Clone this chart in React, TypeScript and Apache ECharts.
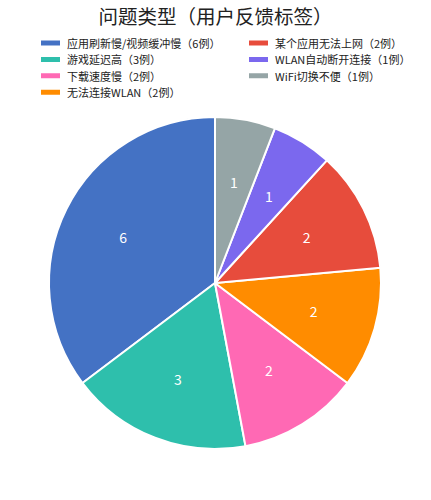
import { useEffect, useRef } from 'react';
import * as echarts from 'echarts';

const categories = [
  '应用刷新慢/视频缓冲慢',
  '游戏延迟高',
  '下载速度慢',
  '无法连接WLAN',
  '某个应用无法上网',
  'WLAN自动断开连接',
  'WiFi切换不便',
];
const counts = [6, 3, 2, 2, 2, 1, 1];
const colors = ['#4472C4', '#2EBFAC', '#FF69B4', '#FF8C00', '#E74C3C', '#7B68EE', '#95A5A6'];

const FONT = '"Noto Sans CJK SC", "Noto Sans", sans-serif';

export default function App() {
  const chartRef = useRef<HTMLDivElement>(null);

  useEffect(() => {
    document.body.style.margin = '0';
    if (!chartRef.current) return;
    const chart = echarts.init(chartRef.current, undefined, { renderer: 'svg' });

    const names = categories.map((c, i) => `${c}（${counts[i]}例）`);
    const data = names.map((name, i) => ({
      name,
      value: counts[i],
      itemStyle: { color: colors[i] },
    }));

    const legendBase = {
      orient: 'vertical' as const,
      top: 32,
      itemWidth: 21,
      itemHeight: 7,
      itemGap: 4.4,
      icon: 'rect',
      selectedMode: false,
      textStyle: { fontFamily: FONT, fontSize: 11, color: '#222', lineHeight: 12, padding: [0, 0, 0, 1] },
    };

    chart.setOption({
      animation: false,
      title: {
        text: '问题类型（用户反馈标签）',
        left: 'center',
        top: 1,
        textStyle: { fontFamily: FONT, fontSize: 19.5, fontWeight: 'normal', color: '#222' },
      },
      legend: [
        { ...legendBase, left: 34, data: names.slice(0, 4) },
        { ...legendBase, left: 242, data: names.slice(4) },
      ],
      series: [
        {
          type: 'pie',
          center: [215, 283],
          radius: [0, 166],
          startAngle: 90,
          clockwise: false,
          silent: true,
          label: { show: false },
          labelLine: { show: false },
          itemStyle: { borderColor: '#fff', borderWidth: 2 },
          data,
        },
        {
          type: 'pie',
          center: [215, 283],
          radius: [33, 166],
          startAngle: 90,
          clockwise: false,
          silent: true,
          legendHoverLink: false,
          label: {
            show: true,
            position: 'inside',
            formatter: '{c}',
            color: '#fff',
            fontFamily: FONT,
            fontSize: 14,
          },
          labelLine: { show: false },
          itemStyle: { color: 'transparent' },
          data: data.map((d) => ({ name: d.name, value: d.value, itemStyle: { color: 'transparent' } })),
        },
      ],
    });

    return () => chart.dispose();
  }, []);

  return <div ref={chartRef} style={{ width: 431, height: 500 }} />;
}
